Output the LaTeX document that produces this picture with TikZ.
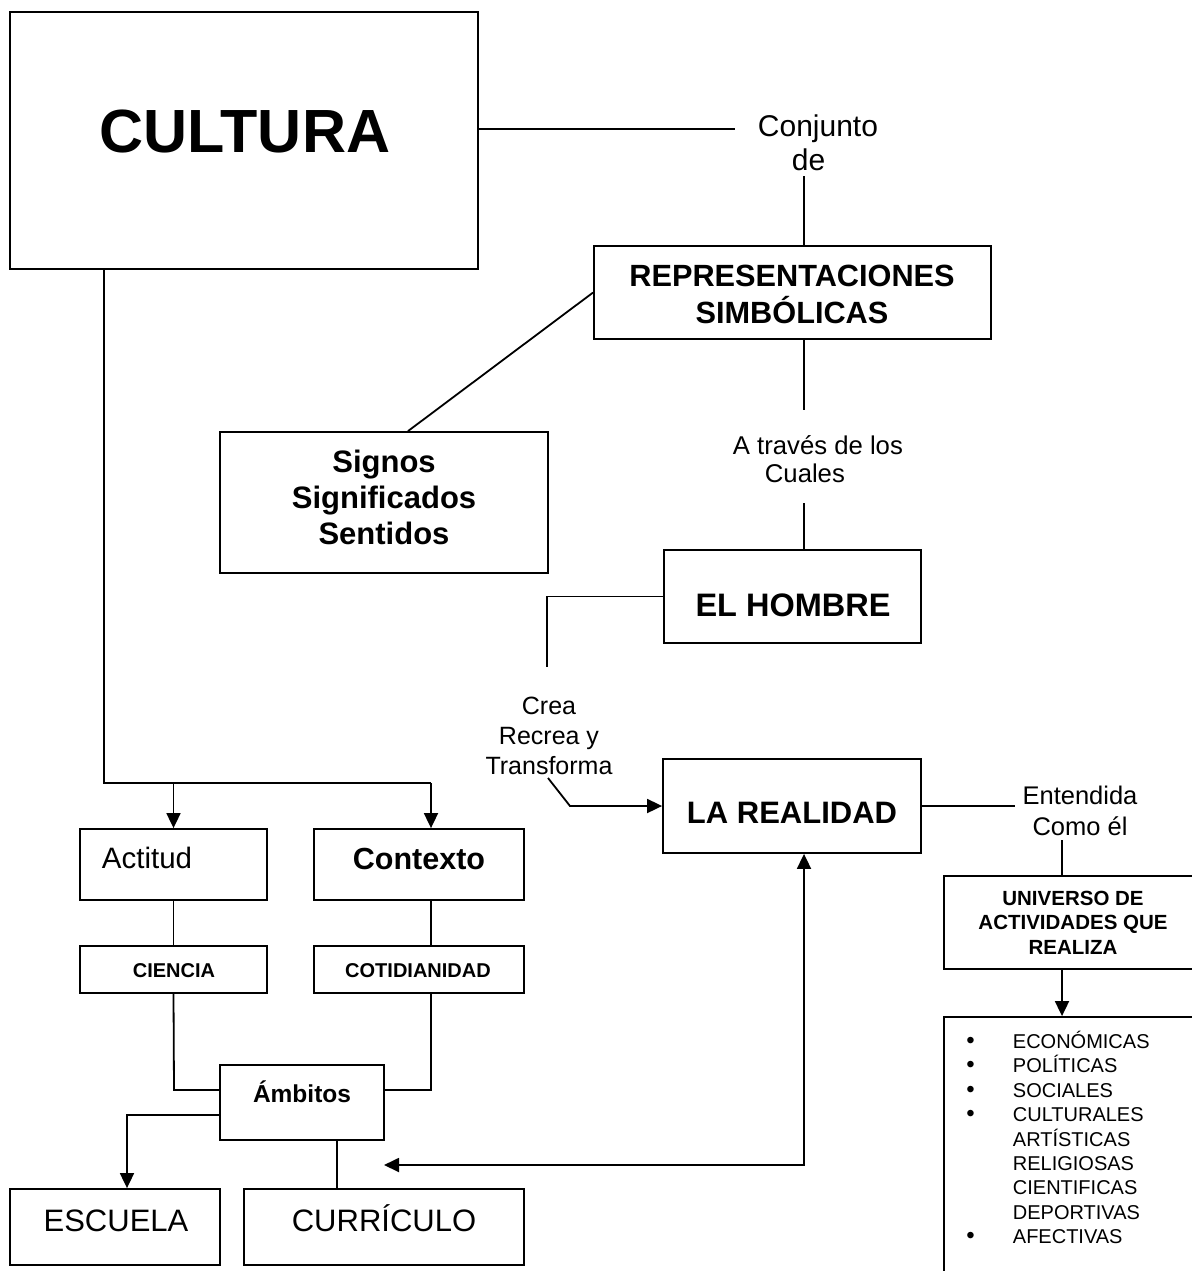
\documentclass[tikz,border=0pt]{standalone}
\usepackage{fontspec}
\setmainfont{Liberation Sans}
\usetikzlibrary{arrows.meta}
\newcommand{\myfs}[2]{\fontsize{#1pt}{#2pt}\selectfont}
\newcommand{\ctab}[1]{\begin{tabular}[t]{@{}c@{}}#1\end{tabular}}
\newcommand{\ltab}[1]{\begin{tabular}[t]{@{}l@{}}#1\end{tabular}}
\newcommand{\bigbul}{{\fontsize{24pt}{24pt}\selectfont\textbullet}}
\begin{document}
\begin{tikzpicture}[x=1pt,y=-1pt,line width=1.8pt,
  >={Triangle[length=15pt,width=14pt]},
  box/.style={draw,inner sep=0pt,line width=1.8pt},
  txt/.style={inner sep=0pt,anchor=base}]
\fill[white] (0,0) rectangle (1191,1271);
\useasboundingbox (0,0) rectangle (1191,1271);

% boxes
\node[box,minimum width=468pt,minimum height=257pt] (cultura) at (244,140.5) {};
\node[box,minimum width=397pt,minimum height=93pt] (repr) at (792.5,292.5) {};
\node[box,minimum width=328pt,minimum height=141pt] (signos) at (384,502.5) {};
\node[box,minimum width=257pt,minimum height=93pt] (hombre) at (792.5,596.5) {};
\node[box,minimum width=258pt,minimum height=94pt] (realidad) at (792,806) {};
\node[box,minimum width=251pt,minimum height=93pt] (universo) at (1069.5,922.5) {};
\node[box,minimum width=251pt,minimum height=268pt] (bullets) at (1069.5,1151) {};
\node[box,minimum width=187pt,minimum height=71pt] (actitud) at (173.5,864.5) {};
\node[box,minimum width=210pt,minimum height=71pt] (contexto) at (419,864.5) {};
\node[box,minimum width=187pt,minimum height=47pt] (ciencia) at (173.5,969.5) {};
\node[box,minimum width=210pt,minimum height=47pt] (cotid) at (419,969.5) {};
\node[box,minimum width=164pt,minimum height=75pt] (ambitos) at (302,1102.5) {};
\node[box,minimum width=210pt,minimum height=76pt] (escuela) at (115,1227) {};
\node[box,minimum width=280pt,minimum height=76pt] (curriculo) at (384,1227) {};

% texts
\node[txt,font=\myfs{61}{70}\bfseries] (tcultura) at (245,153) {CULTURA};
\node[txt,anchor=base west,font=\myfs{30}{34}] (tconj) at (757,136) {\ltab{Conjunto\\\hspace*{34pt}de}};
\node[txt,font=\myfs{30.7}{34}\bfseries] (trepr) at (792,286) {\ctab{REPRESENTACIONES\\SIMBÓLICAS}};
\node[txt,font=\myfs{31}{36}\bfseries] (tsignos) at (384,472) {\ctab{Signos\\Significados\\Sentidos}};
\node[txt,anchor=base west,font=\myfs{25.7}{28}] (tatraves) at (732,454) {\ltab{A través de los\\\hspace*{32pt}Cuales}};
\node[txt,font=\myfs{32.5}{36}\bfseries] (thombre) at (793,616) {EL HOMBRE};
\node[txt,font=\myfs{25}{30}] (tcrea) at (549,714) {\ctab{Crea\\Recrea y\\Transforma}};
\node[txt,font=\myfs{31}{36}\bfseries] (trealidad) at (792,823) {LA REALIDAD};
\node[txt,font=\myfs{25.5}{31}] (tentendida) at (1080,804) {\ctab{Entendida\\Como él}};
\node[txt,font=\myfs{20.5}{24.5}\bfseries] (tuniverso) at (1073,905) {\ctab{UNIVERSO DE\\ACTIVIDADES QUE\\REALIZA}};
\node[txt,anchor=base west,font=\myfs{20}{24.4}] (tbullets) at (965.5,1048) {\begin{tabular}[t]{@{}p{46.5pt}@{}l@{}}
\bigbul & ECONÓMICAS\\
\bigbul & POLÍTICAS\\
\bigbul & SOCIALES\\
\bigbul & CULTURALES\\
 & ARTÍSTICAS\\
 & RELIGIOSAS\\
 & CIENTIFICAS\\
 & DEPORTIVAS\\
\bigbul & AFECTIVAS
\end{tabular}};
\node[txt,anchor=base west,font=\myfs{29.5}{34}] (tactitud) at (101,868) {Actitud};
\node[txt,font=\myfs{30.5}{34}\bfseries] (tcontexto) at (419,869) {Contexto};
\node[txt,font=\myfs{20}{24}\bfseries] (tciencia) at (174,977) {CIENCIA};
\node[txt,font=\myfs{20}{24}\bfseries] (tcotid) at (418,977) {COTIDIANIDAD};
\node[txt,font=\myfs{24.5}{28}\bfseries] (tambitos) at (302,1102) {Ámbitos};
\node[txt,font=\myfs{31}{36}] (tescuela) at (116,1231) {ESCUELA};
\node[txt,font=\myfs{31}{36}] (tcurriculo) at (384,1231) {CURRÍCULO};

% free ends
\coordinate (c1) at (735,129);
\coordinate (c2) at (804,176);
\coordinate (c4) at (804,410);
\coordinate (c5) at (804,503);
\coordinate (c6) at (547,667);
\coordinate (c7) at (548,778);
\coordinate (c8) at (570,806);
\coordinate (c9) at (1015,806);
\coordinate (c10) at (1062,840);
\coordinate (c11) at (104,783);
\coordinate (c12) at (431,783);
\coordinate (c13) at (174,1090);
\coordinate (c14) at (431,1090);
\coordinate (c15) at (127,1115);
\coordinate (c16) at (337,1165);
\coordinate (c17) at (804,1165);
\coordinate (c18) at (384,1165);

% connectors
\draw (cultura.east |- c1) -- (c1);
\draw (c2) -- (c2 |- repr.north);
\draw (repr.west) -- ([xshift=24pt]signos.north);
\draw (repr.south -| c4) -- (c4);
\draw (c5) -- (c5 |- hombre.north);
\draw (hombre.west) -| (c6);
\draw[->] (c7) -- (c8) -- (realidad.west);
\draw (realidad.east) -- (c9);
\draw (c10) -- (c10 |- universo.north);
\draw[->] (universo.south -| c10) -- (c10 |- bullets.north);
\draw (cultura.south -| c11) -- (c11) -- (c12);
\draw[->] (actitud.north |- c11) -- (actitud.north);
\draw[->] (c12) -- (c12 |- contexto.north);
\draw (actitud.south) -- (ciencia.north);
\draw (contexto.south -| c12) -- (cotid.north -| c12);
\draw (ciencia.south) -- (c13) -- (c13 -| ambitos.west);
\draw (cotid.south -| c14) -- (c14) -- (c14 -| ambitos.east);
\draw[->] (ambitos.west |- c15) -- (c15) -- (c15 |- escuela.north);
\draw (ambitos.south -| c16) -- (curriculo.north -| c16);
\draw[<->] (c18) -- (c17) -- (realidad.south -| c17);
\end{tikzpicture}
\end{document}
